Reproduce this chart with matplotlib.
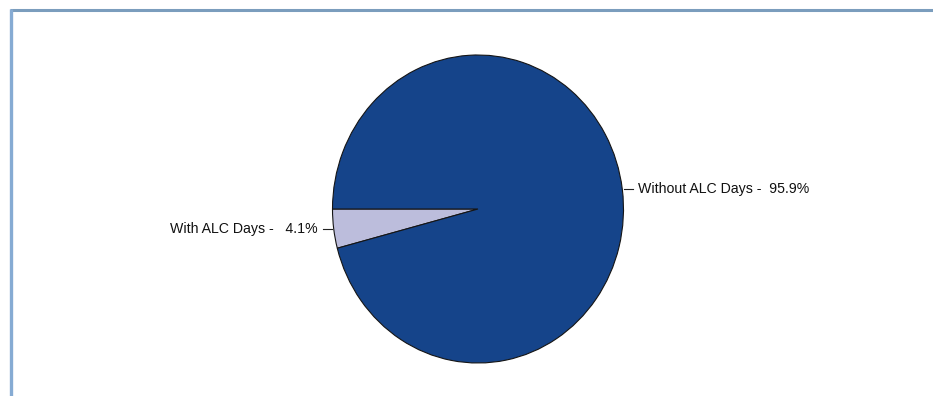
import numpy as np
import matplotlib
matplotlib.use("Agg")
import matplotlib.pyplot as plt
from matplotlib.lines import Line2D

categories = ["With ALC Days", "Without ALC Days"]
values = [4.1, 95.9]
colors = ["#BCBDDC", "#15448A"]

W, H = 933, 396
fig = plt.figure(figsize=(W / 100, H / 100), dpi=100)
fig.patch.set_facecolor("white")

# frame (light blue border, open to right/bottom)
fig.add_artist(Line2D([9.5 / W, 1.01], [1 - 9.5 / H, 1 - 9.5 / H], transform=fig.transFigure,
                      color="#7B9DBD", lw=2.2, solid_capstyle="butt"))
fig.add_artist(Line2D([10.5 / W, 10.5 / W], [1 - 8.5 / H, -0.01], transform=fig.transFigure,
                      color="#86ABD3", lw=2.4, solid_capstyle="butt"))

cx, cy = 478, 209
rx, ry = 145.5, 154.0
lim = 1.2
aw, ah = 2 * lim * rx, 2 * lim * ry
ax = fig.add_axes([(cx - aw / 2) / W, (H - cy - ah / 2) / H, aw / W, ah / H])
wedges, _ = ax.pie(values, colors=colors, startangle=180, counterclock=True,
                   wedgeprops=dict(edgecolor="#151515", linewidth=0.8))
ax.set_aspect("auto")
ax.set_xlim(-lim, lim)
ax.set_ylim(-lim, lim)
ax.axis("off")

for w, cat, v in zip(wedges, categories, values):
    mid = np.deg2rad((w.theta1 + w.theta2) / 2)
    x, y = np.cos(mid), np.sin(mid)
    sgn = 1 if x >= 0 else -1
    ax.plot([x + sgn * 2 / rx, x + sgn * 11 / rx], [y, y], color="#222222", lw=0.8)
    ax.text(x + sgn * 16 / rx, y, f"{cat} -  {v:4.1f}%",
            ha="left" if sgn > 0 else "right",
            va="center", fontsize=10.2, family="Liberation Sans", color="#111111")

fig.savefig("out.png", dpi=100)
